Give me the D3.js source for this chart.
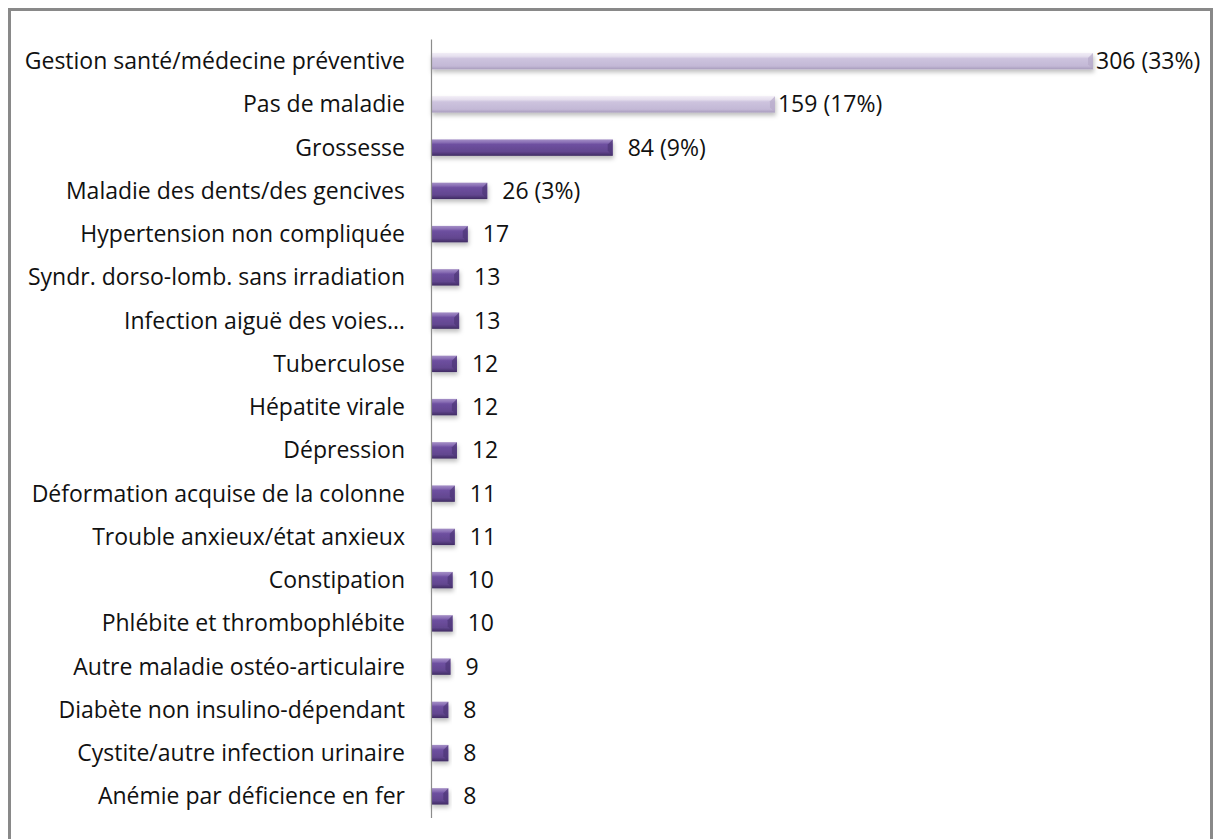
<!DOCTYPE html>
<html><head><meta charset="utf-8">
<script src="https://cdn.jsdelivr.net/npm/d3@7"></script>
<style>body{margin:0;background:#fff}svg{display:block}</style>
</head><body>
<script>
const categories = ["Gestion santé/médecine préventive","Pas de maladie","Grossesse","Maladie des dents/des gencives","Hypertension non compliquée","Syndr. dorso-lomb. sans irradiation","Infection aiguë des voies…","Tuberculose","Hépatite virale","Dépression","Déformation acquise de la colonne","Trouble anxieux/état anxieux","Constipation","Phlébite et thrombophlébite","Autre maladie ostéo-articulaire","Diabète non insulino-dépendant","Cystite/autre infection urinaire","Anémie par déficience en fer"];
const values = [306,159,84,26,17,13,13,12,12,12,11,11,10,10,9,8,8,8];
const valueLabels = ["306 (33%)","159 (17%)","84 (9%)","26 (3%)","17","13","13","12","12","12","11","11","10","10","9","8","8","8"];
const highlighted = [true,true,false,false,false,false,false,false,false,false,false,false,false,false,false,false,false,false];

const W=1215,H=839;
const svg=d3.select("body").append("svg").attr("width",W).attr("height",H);
const defs=svg.append("defs");
const gD=defs.append("linearGradient").attr("id","gDark").attr("x1",0).attr("y1",0).attr("x2",0).attr("y2",1);
[[0,"#a48fc6"],[0.18,"#8a6fb5"],[0.3,"#6e50a0"],[0.75,"#62468f"],[1,"#3f2b62"]].forEach(s=>gD.append("stop").attr("offset",s[0]).attr("stop-color",s[1]));
const gL=defs.append("linearGradient").attr("id","gLight").attr("x1",0).attr("y1",0).attr("x2",0).attr("y2",1);
[[0,"#f1edf6"],[0.2,"#e6e0ee"],[0.35,"#cdc3de"],[0.8,"#c3b8d6"],[1,"#a89cbc"]].forEach(s=>gL.append("stop").attr("offset",s[0]).attr("stop-color",s[1]));
const f=defs.append("filter").attr("id","sh").attr("x","-10%").attr("y","-30%").attr("width","130%").attr("height","190%");
f.append("feDropShadow").attr("dx",1).attr("dy",3).attr("stdDeviation",2).attr("flood-color","#000").attr("flood-opacity",0.25);

// frame
svg.append("rect").attr("x",9.5).attr("y",9.5).attr("width",1202).attr("height",840).attr("fill","none").attr("stroke","#898989").attr("stroke-width",3);

const x0=431, plotTop=39.5, plotBottom=818;
const x=d3.scaleLinear().domain([0,306]).range([x0,1093]);
const y=d3.scaleBand().domain(categories).range([plotTop,plotBottom]).paddingInner(0.62).paddingOuter(0.31);

const font="'Open Sans', Lato, sans-serif";
// category labels
svg.append("g").selectAll("text").data(categories).join("text")
  .attr("x",405).attr("y",d=>y(d)+y.bandwidth()/2).attr("dy","0.35em")
  .attr("text-anchor","end").attr("font-family",font).attr("font-size",23).attr("fill","#111").text(d=>d);

// bars
const bh=y.bandwidth();
svg.append("g").selectAll("rect").data(categories).join("rect")
  .attr("x",x0).attr("y",d=>y(d)).attr("width",(d,i)=>x(values[i])-x0).attr("height",bh)
  .attr("fill",(d,i)=>highlighted[i]?"url(#gLight)":"url(#gDark)").attr("filter","url(#sh)");
// bevel end caps
svg.append("g").selectAll("path").data(categories).join("path")
  .attr("d",(d,i)=>{const xe=x(values[i]),yt=y(d),c=Math.min(5,(xe-x0)/3);return `M${xe},${yt}L${xe-c},${yt+c}L${xe-c},${yt+bh-c}L${xe},${yt+bh}Z`;})
  .attr("fill",(d,i)=>highlighted[i]?"#b7abc9":"#4d3676").attr("opacity",0.7);

// value labels
svg.append("g").selectAll("text").data(categories).join("text")
  .attr("x",(d,i)=>x(values[i])+(highlighted[i]?3:15)).attr("y",d=>y(d)+bh/2).attr("dy","0.35em")
  .attr("font-family",font).attr("font-size",23).attr("fill","#111").text((d,i)=>valueLabels[i]);

// axis line
svg.append("line").attr("x1",x0+0.5).attr("x2",x0+0.5).attr("y1",plotTop).attr("y2",plotBottom).attr("stroke","#8c8c8c").attr("stroke-width",1.2);
</script>
</body></html>
